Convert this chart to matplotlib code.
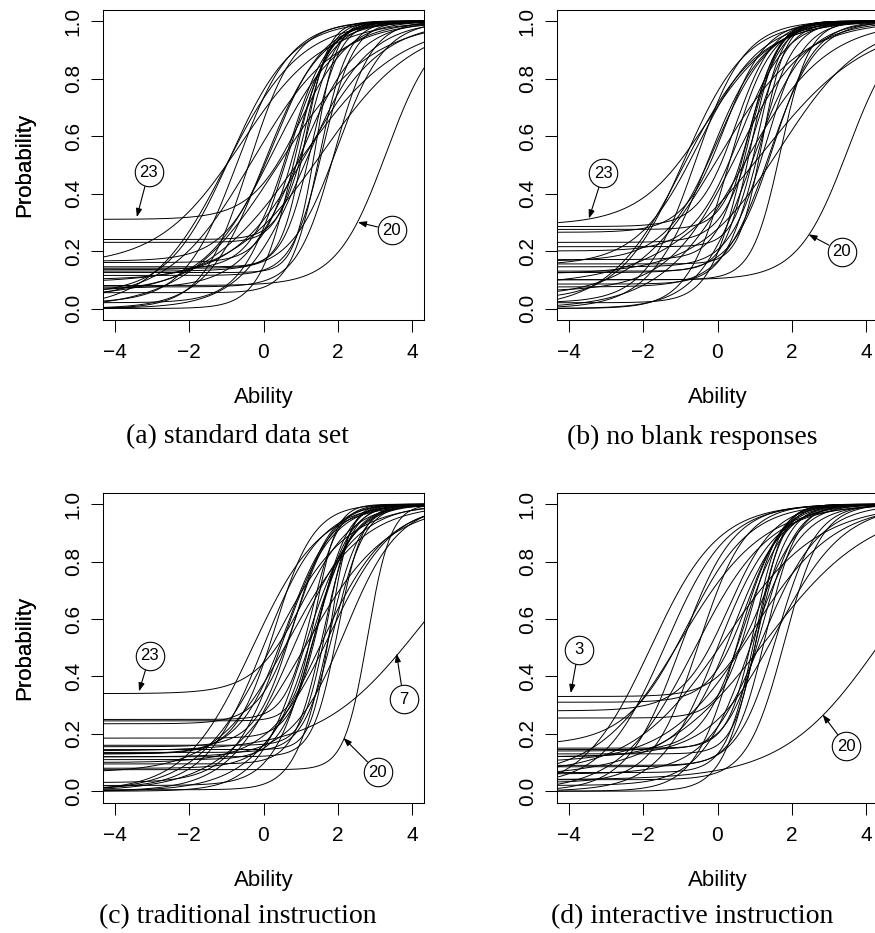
import numpy as np
import matplotlib
matplotlib.use("Agg")
import matplotlib.pyplot as plt

plt.rcParams['font.family'] = ['Liberation Sans', 'DejaVu Sans']

# item parameters (guessing c, discrimination a, difficulty b)
guess_a = [0.31, 0.24, 0.23, 0.165, 0.16, 0.145, 0.14, 0.135, 0.125, 0.115,
           0.08, 0.075, 0.055, 0.05, 0.0, 0.02, 0.0, 0.03, 0.0, 0.06,
           0.0, 0.02, 0.0, 0.1, 0.04, 0.09, 0.07, 0.0, 0.13, 0.15]
discr_a = [1.5, 2.6, 2.8, 1.5, 2.2, 3.2, 2.6, 1.9, 3.5, 2.4,
           1.5, 2.0, 2.6, 1.2, 1.0, 1.4, 1.6, 0.9, 1.3, 1.1,
           0.8, 1.7, 2.2, 1.0, 0.75, 0.8, 1.3, 1.2, 1.6, 0.9]
diff_a = [1.0, 1.2, 1.1, 0.3, 0.9, 1.1, 1.3, 0.7, 1.4, 1.6,
          3.3, 1.9, 1.5, -0.9, -1.0, -0.7, -0.4, -0.3, 0.0, 0.2,
          0.4, 0.6, 0.8, 1.2, 1.0, 1.6, 1.0, 1.1, 2.0, -0.6]

guess_b = [0.29, 0.285, 0.275, 0.265, 0.23, 0.215, 0.20, 0.17, 0.165, 0.155,
           0.145, 0.13, 0.125, 0.10, 0.10, 0.085, 0.075, 0.03, 0.0, 0.02,
           0.0, 0.04, 0.0, 0.06, 0.0, 0.02, 0.08, 0.12, 0.0, 0.15]
discr_b = [1.1, 2.0, 2.6, 1.8, 2.2, 3.0, 1.6, 2.4, 1.4, 3.2,
           2.0, 2.8, 1.8, 1.5, 2.6, 2.2, 1.6, 1.2, 1.0, 1.5,
           1.3, 0.9, 1.8, 1.1, 0.9, 2.2, 0.7, 0.9, 1.4, 1.2]
diff_b = [-0.3, 0.5, 0.9, 0.2, 1.0, 1.1, 0.6, 0.8, 0.0, 1.2,
          1.3, 0.9, 1.5, 3.5, 1.7, 1.1, 1.4, -0.9, -0.9, -0.6,
          -0.3, 0.0, 0.3, 0.5, 0.7, 0.7, 1.2, 1.7, 0.9, -0.5]

guess_c = [0.34, 0.25, 0.245, 0.235, 0.185, 0.16, 0.155, 0.145, 0.135, 0.13,
           0.12, 0.11, 0.095, 0.08, 0.075, 0.14, 0.0, 0.01, 0.0, 0.03,
           0.0, 0.065, 0.0, 0.02, 0.0, 0.1, 0.005, 0.12, 0.0, 0.13]
discr_c = [1.5, 2.8, 3.5, 2.0, 2.6, 3.2, 2.0, 3.8, 2.4, 1.6,
           3.0, 2.2, 2.6, 1.8, 3.2, 0.75, 1.1, 1.3, 1.0, 1.5,
           1.2, 1.0, 1.6, 1.9, 0.9, 1.2, 2.3, 1.4, 1.1, 1.9]
diff_c = [1.1, 1.3, 1.4, 0.9, 1.5, 1.7, 0.8, 1.8, 1.9, 0.6,
          2.0, 1.4, 1.6, 1.3, 2.8, 4.2, -0.3, 0.0, 0.2, 0.5,
          0.8, 0.7, 1.1, 1.3, 1.1, 1.8, 1.7, 2.2, 1.5, 0.3]

guess_d = [0.33, 0.31, 0.28, 0.255, 0.16, 0.15, 0.145, 0.14, 0.13, 0.12,
           0.09, 0.085, 0.065, 0.06, 0.04, 0.04, 0.0, 0.02, 0.0, 0.05,
           0.0, 0.03, 0.0, 0.06, 0.0, 0.1, 0.02, 0.05, 0.12, 0.0]
discr_d = [1.8, 2.0, 1.6, 2.4, 1.2, 2.8, 2.2, 1.8, 3.0, 1.5,
           2.4, 1.9, 2.6, 1.3, 2.0, 0.76, 1.1, 1.2, 1.4, 0.9,
           1.0, 1.6, 1.3, 0.8, 1.8, 0.9, 1.5, 0.7, 1.1, 2.3]
diff_d = [1.2, 0.8, 0.3, 0.9, -0.8, 1.0, 1.2, 0.7, 1.1, 0.4,
          1.3, 1.6, 1.0, 1.2, 1.8, 4.4, -1.8, -1.4, -1.0, -1.0,
          -0.6, -0.5, 0.0, 0.2, 0.5, 0.9, 0.9, 1.3, 1.6, 1.0]

captions = ["(a) standard data set", "(b) no blank responses",
            "(c) traditional instruction", "(d) interactive instruction"]

# labelled items: (label, circle centre (theta, p), arrow tip (theta, p))
labels_a = [("23", (-3.09, 0.474), (-3.41, 0.318)), ("20", (3.45, 0.272), (2.54, 0.30))]
labels_b = [("23", (-3.07, 0.471), (-3.46, 0.313)), ("20", (3.34, 0.197), (2.45, 0.258))]
labels_c = [("23", (-3.06, 0.472), (-3.35, 0.348)), ("7", (3.77, 0.321), (3.58, 0.48)),
            ("20", (3.08, 0.066), (2.15, 0.186))]
labels_d = [("3", (-3.74, 0.493), (-3.95, 0.342)), ("20", (3.47, 0.157), (2.83, 0.267))]

panels = [(guess_a, discr_a, diff_a, labels_a),
          (guess_b, discr_b, diff_b, labels_b),
          (guess_c, discr_c, diff_c, labels_c),
          (guess_d, discr_d, diff_d, labels_d)]

W, H = 875, 933
fig = plt.figure(figsize=(W / 100, H / 100), dpi=100)

# axes boxes in pixels: left, top, right, bottom
boxes = [(103, 9.5, 424, 320), (557, 9.5, 878, 320),
         (103, 492.7, 424, 802.7), (557, 492.7, 878, 802.7)]
cap_pos = [(237.5, 437), (692, 437), (237.5, 917), (692, 917)]

theta = np.linspace(-4.5, 4.5, 500)

for i, (cc, aa, bb, labs) in enumerate(panels):
    l, t, r, b = boxes[i]
    ax = fig.add_axes([l / W, 1 - b / H, (r - l) / W, (b - t) / H])
    for c, a, d in zip(cc, aa, bb):
        p = c + (1 - c) / (1 + np.exp(-a * (theta - d)))
        ax.plot(theta, p, color='black', lw=0.7)
    ax.set_xlim(-4.32, 4.32)
    ax.set_ylim(-0.04, 1.04)
    ax.set_xticks([-4, -2, 0, 2, 4])
    ax.set_yticks([0.0, 0.2, 0.4, 0.6, 0.8, 1.0])
    ax.set_yticklabels(["0.0", "0.2", "0.4", "0.6", "0.8", "1.0"],
                       rotation=90, va='center')
    ax.tick_params(length=8.5, width=0.75, labelsize=15, pad=6)
    ax.tick_params(axis='x', pad=8)
    for s in ax.spines.values():
        s.set_linewidth(0.75)
    # label centres sit 78 px below / 78 px left of the box
    ax.set_xlabel("Ability", fontsize=16, va='center')
    ax.xaxis.set_label_coords(0.5, -78 / (b - t))
    ax.set_ylabel("Probability", fontsize=16, va='center')
    ax.yaxis.set_label_coords((25 - l) / (r - l), 0.5)

    for txt, ctr, tip in labs:
        ax.annotate("", xy=tip, xytext=ctr,
                    arrowprops=dict(arrowstyle='-|>,head_length=0.5,head_width=0.18',
                                    color='black', lw=0.8, shrinkA=10.5, shrinkB=0,
                                    mutation_scale=10))
        ax.plot(*ctr, marker='o', ms=20.5, mfc='white', mec='black', mew=0.8,
                zorder=5, clip_on=False)
        ax.text(*ctr, txt, ha='center', va='center', fontsize=12, zorder=6)

    fig.text(cap_pos[i][0] / W, 1 - cap_pos[i][1] / H, captions[i],
             ha='center', va='center', fontsize=20, family='Liberation Serif')

fig.savefig("out.png", dpi=100)
